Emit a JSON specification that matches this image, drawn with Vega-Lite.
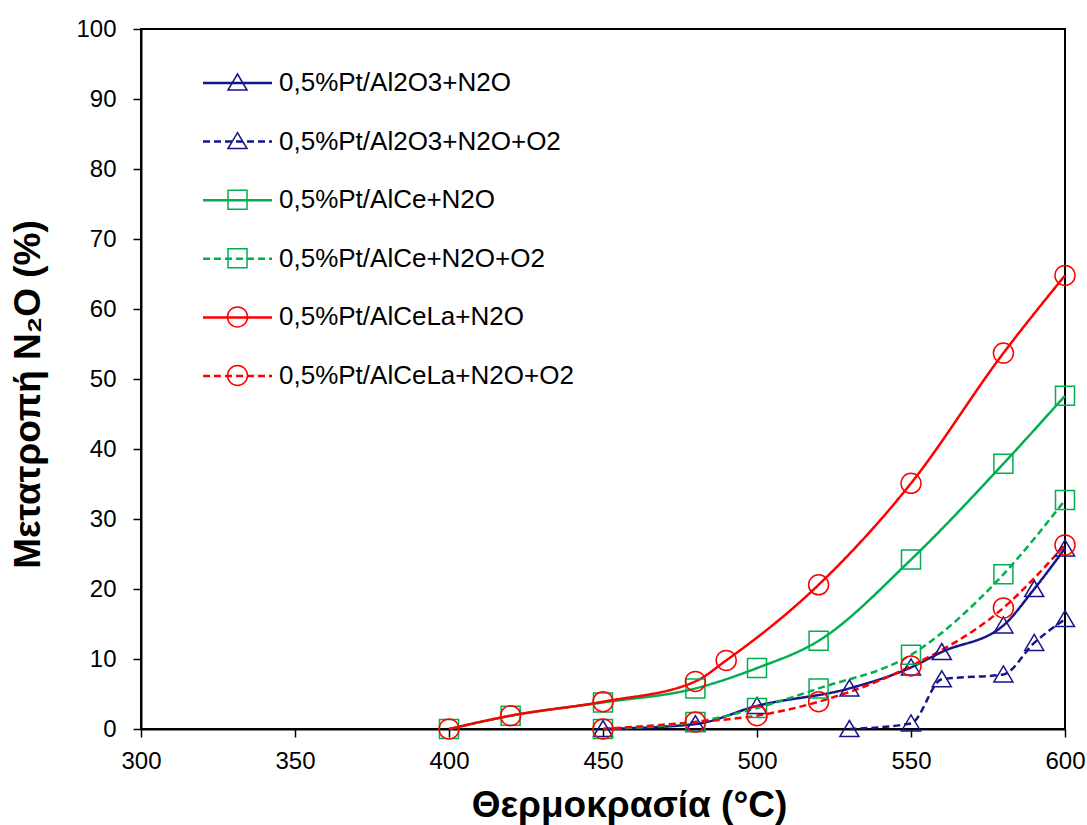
{
  "$schema": "https://vega.github.io/schema/vega-lite/v6.json",
  "width": 924,
  "height": 700,
  "autosize": "none",
  "padding": {"left": 141, "top": 29, "right": 22, "bottom": 96},
  "background": "white",
  "config": {
    "view": {"stroke": "black", "strokeWidth": 2},
    "axis": {
      "grid": false,
      "labelFlush": false,
      "domainColor": "black",
      "domainWidth": 2,
      "tickColor": "black",
      "tickWidth": 1.5,
      "tickSize": 8,
      "labelFont": "Liberation Sans",
      "labelFontSize": 24,
      "labelColor": "black",
      "titleFont": "Liberation Sans",
      "titleFontWeight": "bold",
      "titleColor": "black"
    }
  },
  "data": {
    "values": [
      {"s": "0,5%Pt/Al2O3+N2O", "x": 450, "y": 0},
      {"s": "0,5%Pt/Al2O3+N2O", "x": 480, "y": 0.7},
      {"s": "0,5%Pt/Al2O3+N2O", "x": 500, "y": 3.3},
      {"s": "0,5%Pt/Al2O3+N2O", "x": 530, "y": 5.8},
      {"s": "0,5%Pt/Al2O3+N2O", "x": 550, "y": 8.8},
      {"s": "0,5%Pt/Al2O3+N2O", "x": 560, "y": 11},
      {"s": "0,5%Pt/Al2O3+N2O", "x": 580, "y": 14.8},
      {"s": "0,5%Pt/Al2O3+N2O", "x": 590, "y": 20},
      {"s": "0,5%Pt/Al2O3+N2O", "x": 600, "y": 25.8},
      {"s": "0,5%Pt/Al2O3+N2O+O2", "x": 530, "y": 0},
      {"s": "0,5%Pt/Al2O3+N2O+O2", "x": 550, "y": 0.8},
      {"s": "0,5%Pt/Al2O3+N2O+O2", "x": 560, "y": 7.1},
      {"s": "0,5%Pt/Al2O3+N2O+O2", "x": 580, "y": 7.8},
      {"s": "0,5%Pt/Al2O3+N2O+O2", "x": 590, "y": 12.3},
      {"s": "0,5%Pt/Al2O3+N2O+O2", "x": 600, "y": 15.7},
      {"s": "0,5%Pt/AlCe+N2O", "x": 400, "y": 0},
      {"s": "0,5%Pt/AlCe+N2O", "x": 420, "y": 1.9},
      {"s": "0,5%Pt/AlCe+N2O", "x": 450, "y": 3.8},
      {"s": "0,5%Pt/AlCe+N2O", "x": 480, "y": 5.8},
      {"s": "0,5%Pt/AlCe+N2O", "x": 500, "y": 8.7},
      {"s": "0,5%Pt/AlCe+N2O", "x": 520, "y": 12.6},
      {"s": "0,5%Pt/AlCe+N2O", "x": 550, "y": 24.2},
      {"s": "0,5%Pt/AlCe+N2O", "x": 580, "y": 37.9},
      {"s": "0,5%Pt/AlCe+N2O", "x": 600, "y": 47.6},
      {"s": "0,5%Pt/AlCe+N2O+O2", "x": 450, "y": 0},
      {"s": "0,5%Pt/AlCe+N2O+O2", "x": 480, "y": 1.0},
      {"s": "0,5%Pt/AlCe+N2O+O2", "x": 500, "y": 3.0},
      {"s": "0,5%Pt/AlCe+N2O+O2", "x": 520, "y": 5.8},
      {"s": "0,5%Pt/AlCe+N2O+O2", "x": 550, "y": 10.6},
      {"s": "0,5%Pt/AlCe+N2O+O2", "x": 580, "y": 22.1},
      {"s": "0,5%Pt/AlCe+N2O+O2", "x": 600, "y": 32.7},
      {"s": "0,5%Pt/AlCeLa+N2O", "x": 400, "y": 0},
      {"s": "0,5%Pt/AlCeLa+N2O", "x": 420, "y": 1.9},
      {"s": "0,5%Pt/AlCeLa+N2O", "x": 450, "y": 3.9},
      {"s": "0,5%Pt/AlCeLa+N2O", "x": 480, "y": 6.8},
      {"s": "0,5%Pt/AlCeLa+N2O", "x": 490, "y": 9.8},
      {"s": "0,5%Pt/AlCeLa+N2O", "x": 520, "y": 20.6},
      {"s": "0,5%Pt/AlCeLa+N2O", "x": 550, "y": 35.1},
      {"s": "0,5%Pt/AlCeLa+N2O", "x": 580, "y": 53.7},
      {"s": "0,5%Pt/AlCeLa+N2O", "x": 600, "y": 64.8},
      {"s": "0,5%Pt/AlCeLa+N2O+O2", "x": 450, "y": 0},
      {"s": "0,5%Pt/AlCeLa+N2O+O2", "x": 480, "y": 1.0},
      {"s": "0,5%Pt/AlCeLa+N2O+O2", "x": 500, "y": 1.9},
      {"s": "0,5%Pt/AlCeLa+N2O+O2", "x": 520, "y": 3.9},
      {"s": "0,5%Pt/AlCeLa+N2O+O2", "x": 550, "y": 9.0},
      {"s": "0,5%Pt/AlCeLa+N2O+O2", "x": 580, "y": 17.3},
      {"s": "0,5%Pt/AlCeLa+N2O+O2", "x": 600, "y": 26.3}
    ]
  },
  "encoding": {
    "x": {
      "field": "x", "type": "quantitative",
      "scale": {"domain": [300, 600], "nice": false, "zero": false},
      "axis": {
        "title": "Θερμοκρασία (°C)",
        "values": [300, 350, 400, 450, 500, 550, 600],
        "labelPadding": 12,
        "titleFontSize": 37,
        "titleX": 488, "titleY": 87, "titleBaseline": "alphabetic", "titleAlign": "center"
      }
    },
    "y": {
      "field": "y", "type": "quantitative",
      "scale": {"domain": [0, 100], "nice": false},
      "axis": {
        "title": "Μετατροπή N₂O (%)",
        "values": [0, 10, 20, 30, 40, 50, 60, 70, 80, 90, 100],
        "labelPadding": 17,
        "titleFontSize": 37,
        "titleX": -113, "titleY": 365, "titleBaseline": "middle", "titleAlign": "center", "titleAngle": 270
      }
    },
    "color": {
      "field": "s", "type": "nominal", "legend": null,
      "scale": {"range": ["#16168a", "#16168a", "#00b050", "#00b050", "#ff0000", "#ff0000"]}
    }
  },
  "layer": [
    {
      "mark": {"type": "line", "interpolate": "monotone", "strokeWidth": 2.5},
      "encoding": {
        "strokeDash": {
          "field": "s", "type": "nominal",
          "scale": {"range": [[1, 0], [7, 4], [1, 0], [7, 4], [1, 0], [7, 4]]},
          "legend": {
            "orient": "none", "legendX": 70, "legendY": 27.5,
            "title": null, "padding": 0,
            "symbolType": "M-1.38,0H1.38", "symbolSize": 2500, "symbolStrokeWidth": 2.5,
            "labelFont": "Liberation Sans", "labelFontSize": 26, "labelColor": "black", "labelLimit": 0,
            "labelOffset": 15, "rowPadding": 18.6,
            "encode": {"symbols": {"update": {"stroke": {"scale": "color", "field": "value"}, "fill": {"value": "transparent"}, "strokeWidth": {"value": 2.5}}}}
          }
        }
      }
    },
    {
      "mark": {"type": "point", "filled": false, "size": 2500, "strokeWidth": 1.5, "opacity": 1},
      "encoding": {
        "shape": {
          "field": "s", "type": "nominal",
          "scale": {
            "domain": ["0,5%Pt/Al2O3+N2O", "0,5%Pt/Al2O3+N2O+O2", "0,5%Pt/AlCe+N2O", "0,5%Pt/AlCe+N2O+O2", "0,5%Pt/AlCeLa+N2O", "0,5%Pt/AlCeLa+N2O+O2"],
            "range": ["M0,-0.34L0.38,0.3L-0.38,0.3Z", "M0,-0.34L0.38,0.3L-0.38,0.3Z", "M-0.38,-0.38H0.38V0.38H-0.38Z", "M-0.38,-0.38H0.38V0.38H-0.38Z", "M-0.4,0A0.4,0.4,0,1,1,0.4,0A0.4,0.4,0,1,1,-0.4,0Z", "M-0.4,0A0.4,0.4,0,1,1,0.4,0A0.4,0.4,0,1,1,-0.4,0Z"]
          },
          "legend": {
            "orient": "none", "legendX": 70.5, "legendY": 27.5,
            "title": null, "padding": 0,
            "symbolSize": 2500, "symbolStrokeWidth": 1.5,
            "symbolStrokeColor": {"expr": "scale('color', datum.value)"},
            "symbolFillColor": "transparent",
            "labelFont": "Liberation Sans", "labelFontSize": 26, "labelOpacity": 0, "labelLimit": 0,
            "labelOffset": 15, "rowPadding": 19.6
          }
        }
      }
    }
  ]
}
